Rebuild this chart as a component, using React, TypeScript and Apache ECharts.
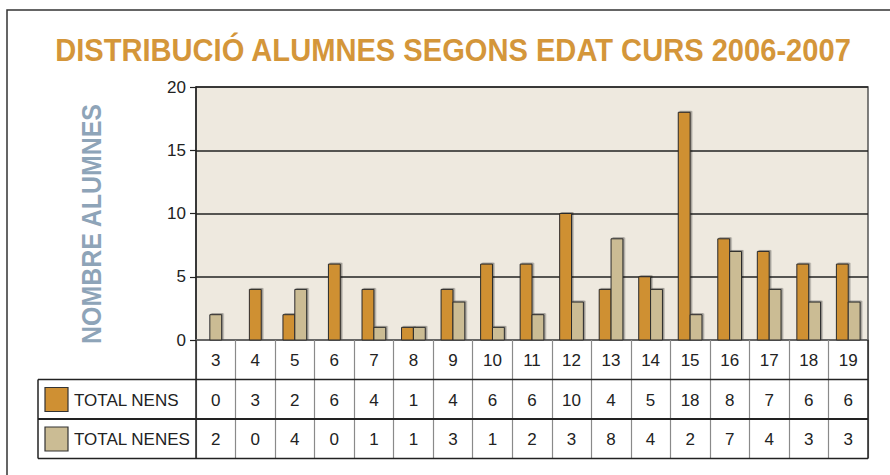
import React, { useEffect, useRef } from "react";
import * as echarts from "echarts";

const categories = ["3", "4", "5", "6", "7", "8", "9", "10", "11", "12", "13", "14", "15", "16", "17", "18", "19"];
// bar heights as drawn
const nensBars = [0, 4, 2, 6, 4, 1, 4, 6, 6, 10, 4, 5, 18, 8, 7, 6, 6];
const nenesBars = [2, 0, 4, 0, 1, 1, 3, 1, 2, 3, 8, 4, 2, 7, 4, 3, 3];
// values printed in the data table
const nensTable = [0, 3, 2, 6, 4, 1, 4, 6, 6, 10, 4, 5, 18, 8, 7, 6, 6];
const nenesTable = [2, 0, 4, 0, 1, 1, 3, 1, 2, 3, 8, 4, 2, 7, 4, 3, 3];
const seriesNames = ["TOTAL NENS", "TOTAL NENES"];
const yTicks = { min: 0, max: 20, interval: 5 };

const TITLE = "DISTRIBUCIÓ ALUMNES SEGONS EDAT CURS 2006-2007";
const Y_NAME = "NOMBRE ALUMNES";

const ORANGE = "#CF9033";
const BEIGE = "#CBBC94";
const FONT = '"Liberation Sans", Arial, sans-serif';

const GL = 196, GT = 87, GW = 672, GH = 253;
const ROW_H = 39.5;
const TABLE_LEFT = 38;

export default function App() {
  const ref = useRef<HTMLDivElement>(null);
  useEffect(() => {
    document.body.style.margin = "0";
    const chart = echarts.init(ref.current!, null, { renderer: "svg" });
    const GB = GT + GH;
    const GR = GL + GW;
    const r1 = GB + ROW_H;
    const r2 = r1 + ROW_H;
    const r3 = r2 + ROW_H;

    const makeRender = (side: number, color: string) => (params: any, api: any) => {
      const i = api.value(0);
      const v = api.value(1);
      const other = api.value(2);
      if (!v) return { type: "group", children: [] };
      const base = api.coord([i, 0]);
      const top = api.coord([i, v]);
      const bw = api.size([1, 0])[0] * 0.3;
      const x = other > 0 ? (side < 0 ? base[0] - bw : base[0]) : base[0] - bw / 2;
      return {
        type: "rect",
        shape: { x, y: top[1], width: bw, height: base[1] - top[1] },
        style: { fill: color, stroke: "#2a2a2a", lineWidth: 1, shadowColor: "rgba(0,0,0,0.35)", shadowOffsetX: 1.5, shadowOffsetY: -1, shadowBlur: 1 },
      };
    };

    const hline = (x1: number, x2: number, y: number, w: number, c = "#222") => ({
      type: "line", shape: { x1, y1: y, x2, y2: y }, style: { stroke: c, lineWidth: w }, z: 10,
    });
    const vline = (x: number, y1: number, y2: number, w: number, c = "#222") => ({
      type: "line", shape: { x1: x, y1, x2: x, y2 }, style: { stroke: c, lineWidth: w }, z: 10,
    });

    const axisBase = {
      type: "category" as const,
      gridIndex: 0,
      position: "bottom" as const,
      axisLine: { show: false },
      axisTick: { show: false },
      axisLabel: { fontSize: 17, color: "#222", fontFamily: FONT, margin: 12, interval: 0 },
    };

    chart.setOption({
      animation: false,
      grid: {
        left: GL, top: GT, width: GW, height: GH, show: true,
        backgroundColor: "#EEE9DF", borderColor: "#555", borderWidth: 1.5,
      },
      xAxis: [
        {
          type: "category",
          data: categories,
          position: "bottom",
          axisLine: { show: true, lineStyle: { color: "#666", width: 2 } },
          axisTick: { show: true, length: ROW_H * 3, lineStyle: { color: "#8a8a8a", width: 1.2 } },
          axisLabel: { fontSize: 17, color: "#222", fontFamily: FONT, margin: 12, interval: 0 },
        },
        { ...axisBase, data: nensTable.map(String), offset: ROW_H },
        { ...axisBase, data: nenesTable.map(String), offset: ROW_H * 2 },
      ],
      yAxis: {
        type: "value",
        min: yTicks.min, max: yTicks.max, interval: yTicks.interval,
        axisLine: { show: true, lineStyle: { color: "#222", width: 1.5 } },
        axisTick: { show: true, length: 6, lineStyle: { color: "#222", width: 1.2 } },
        axisLabel: { fontSize: 17, color: "#222", fontFamily: FONT, margin: 10 },
        splitLine: { show: true, lineStyle: { color: "#222", width: 1.5 } },
      },
      series: [
        {
          name: seriesNames[0], type: "custom", xAxisIndex: 0,
          renderItem: makeRender(-1, ORANGE),
          encode: { x: 0, y: 1 },
          data: nensBars.map((v, i) => [i, v, nenesBars[i]]),
        },
        {
          name: seriesNames[1], type: "custom", xAxisIndex: 0,
          renderItem: makeRender(1, BEIGE),
          encode: { x: 0, y: 1 },
          data: nenesBars.map((v, i) => [i, v, nensBars[i]]),
        },
      ],
      graphic: [
        {
          type: "rect", shape: { x: 7, y: 10, width: 1000, height: 600 },
          style: { fill: "none", stroke: "#333", lineWidth: 1.5 }, z: 0, silent: true,
        },
        {
          type: "text", x: 453, y: 49, scaleX: 0.91,
          style: { text: TITLE, fill: "#D4963A", fontSize: 32, fontWeight: "bold", fontFamily: FONT, align: "center", verticalAlign: "middle" },
        },
        {
          type: "text", x: 91, y: 224, rotation: Math.PI / 2, scaleX: 0.89,
          style: { text: Y_NAME, fill: "#8EA4B8", fontSize: 28, fontWeight: "bold", fontFamily: FONT, align: "center", verticalAlign: "middle" },
        },
        hline(TABLE_LEFT, GR, r1, 1.5),
        hline(TABLE_LEFT, GR, r2, 2.2),
        hline(TABLE_LEFT, GR, r3, 1.5),
        vline(TABLE_LEFT, r1, r3, 1.5),
        vline(GL, GB, r3, 1.5),
        vline(GR, GB, r3, 1.5),
        {
          type: "rect", shape: { x: 45, y: r1 + 8, width: 23, height: 24 },
          style: { fill: ORANGE, stroke: "#333", lineWidth: 1.2 }, z: 10,
        },
        {
          type: "rect", shape: { x: 45, y: r2 + 8, width: 23, height: 24 },
          style: { fill: BEIGE, stroke: "#333", lineWidth: 1.2 }, z: 10,
        },
        {
          type: "text", x: 74, y: r1 + ROW_H / 2 + 1,
          style: { text: seriesNames[0], fill: "#222", fontSize: 17, fontFamily: FONT, align: "left", verticalAlign: "middle" }, z: 10,
        },
        {
          type: "text", x: 74, y: r2 + ROW_H / 2 + 1,
          style: { text: seriesNames[1], fill: "#222", fontSize: 17, fontFamily: FONT, align: "left", verticalAlign: "middle" }, z: 10,
        },
      ],
    });
    return () => chart.dispose();
  }, []);
  return <div ref={ref} style={{ width: 890, height: 475, background: "#fff" }} />;
}
